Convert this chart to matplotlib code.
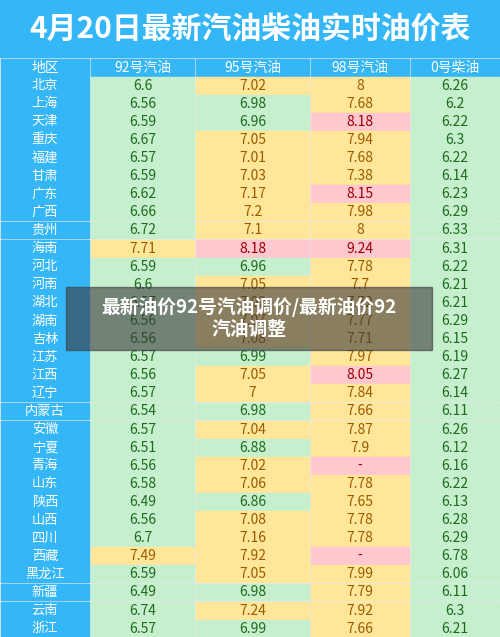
import matplotlib
matplotlib.use('Agg')
import matplotlib.pyplot as plt
from matplotlib.patches import Rectangle

plt.rcParams['font.family'] = ['Noto Sans CJK SC', 'DejaVu Sans']

title = '4月20日最新汽油柴油实时油价表'
headers = ['地区', '92号汽油', '95号汽油', '98号汽油', '0号柴油']
regions = ['北京', '上海', '天津', '重庆', '福建', '甘肃', '广东', '广西', '贵州', '海南',
           '河北', '河南', '湖北', '湖南', '吉林', '江苏', '江西', '辽宁', '内蒙古', '安徽',
           '宁夏', '青海', '山东', '陕西', '山西', '四川', '西藏', '黑龙江', '新疆', '云南', '浙江']
p92 = ['6.6', '6.56', '6.59', '6.67', '6.57', '6.59', '6.62', '6.66', '6.72', '7.71',
       '6.59', '6.6', '6.57', '6.56', '6.56', '6.57', '6.56', '6.57', '6.54', '6.57',
       '6.51', '6.56', '6.58', '6.49', '6.56', '6.7', '7.49', '6.59', '6.49', '6.74', '6.57']
p95 = ['7.02', '6.98', '6.96', '7.05', '7.01', '7.03', '7.17', '7.2', '7.1', '8.18',
       '6.96', '7.05', '7.02', '7.07', '7.08', '6.99', '7.05', '7', '6.98', '7.04',
       '6.88', '7.02', '7.06', '6.86', '7.08', '7.16', '7.92', '7.05', '6.98', '7.24', '6.99']
p98 = ['8', '7.68', '8.18', '7.94', '7.68', '7.38', '8.15', '7.98', '8', '9.24',
       '7.78', '7.7', '7.72', '7.77', '7.71', '7.97', '8.05', '7.84', '7.66', '7.87',
       '7.9', '-', '7.78', '7.65', '7.78', '7.78', '-', '7.99', '7.79', '7.92', '7.66']
p0 = ['6.26', '6.2', '6.22', '6.3', '6.22', '6.14', '6.23', '6.29', '6.33', '6.31',
      '6.22', '6.21', '6.21', '6.29', '6.15', '6.19', '6.27', '6.14', '6.11', '6.26',
      '6.12', '6.16', '6.22', '6.13', '6.28', '6.29', '6.78', '6.06', '6.11', '6.3', '6.21']
overlay = '最新油价92号汽油调价/最新油价92\n汽油调整'

BLUE = '#35b6f6'
GREEN, GREEN_T = '#c6efce', '#1e6b1e'
YELLOW, YELLOW_T = '#ffe699', '#9c5a00'
PINK, PINK_T = '#ffc7ce', '#9c0006'

def style(v):
    if v == '-' or float(v) > 8:
        return PINK, PINK_T
    if float(v) >= 7:
        return YELLOW, YELLOW_T
    return GREEN, GREEN_T

fig = plt.figure(figsize=(5, 6.37), dpi=100)
ax = fig.add_axes([0, 0, 1, 1])
ax.set_xlim(0, 500)
ax.set_ylim(637, 0)
ax.axis('off')
fig.patch.set_facecolor('#e4eaef')

col_x = [0, 90, 195, 310, 410, 500]
top = 58
rh = 18.1
gap = 1.2

ax.add_patch(Rectangle((0, 0), 500, top - gap, color=BLUE))
ax.text(250, 29, title, ha='center', va='center', color='white', fontsize=21.5, fontweight='bold')

def cell(c, r, txt, bg, fg, fs=10):
    x0, x1 = col_x[c], col_x[c + 1]
    y0 = top + r * rh
    ax.add_patch(Rectangle((x0 + gap, y0 + gap / 2), x1 - x0 - 2 * gap, rh - gap, color=bg))
    ax.text((x0 + x1) / 2, y0 + rh / 2 + 0.5, txt, ha='center', va='center', color=fg, fontsize=fs)

for c, h in enumerate(headers):
    cell(c, 0, h, BLUE, 'white', 10)

cols = [p92, p95, p98, p0]
for r, reg in enumerate(regions):
    cell(0, r + 1, reg, BLUE, 'white', 9.5)
    for c, vals in enumerate(cols):
        if c == 3:
            bg, fg = GREEN, GREEN_T
        else:
            bg, fg = style(vals[r])
        cell(c + 1, r + 1, vals[r], bg, fg, 10)

ax.add_patch(Rectangle((66, 287), 366, 63, color='#3a3a3a', alpha=0.6, zorder=5))
ax.text(249, 318, overlay, ha='center', va='center', color='white', fontsize=13.5,
        fontweight='bold', zorder=6, linespacing=1.25)

fig.savefig('out.png', dpi=100)
